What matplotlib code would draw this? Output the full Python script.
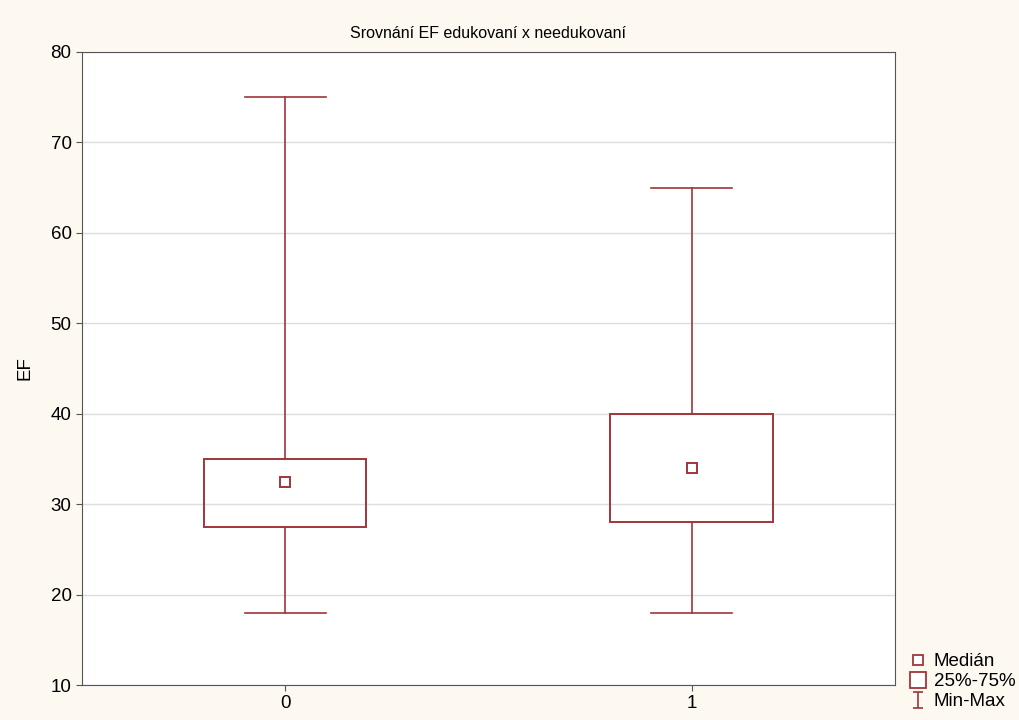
import numpy as np
import matplotlib.pyplot as plt
from matplotlib.lines import Line2D
from matplotlib.path import Path
from matplotlib.patches import Rectangle

plt.rcParams['font.family'] = ['Liberation Sans', 'DejaVu Sans']

groups = ['0', '1']
medians = [32.5, 34.0]
q1 = [27.5, 28.0]
q3 = [35.0, 40.0]
mins = [18.0, 18.0]
maxs = [75.0, 65.0]

col = '#a0353a'

fig = plt.figure(figsize=(10.19, 7.2), dpi=100, facecolor='#fdf9f1')
ax = fig.add_axes([0.0805, 0.0486, 0.7975, 0.8792])
ax.set_facecolor('white')

for i in range(len(groups)):
    # whiskers
    ax.plot([i, i], [mins[i], q1[i]], color=col, lw=1.2)
    ax.plot([i, i], [q3[i], maxs[i]], color=col, lw=1.2)
    ax.plot([i - 0.1, i + 0.1], [mins[i], mins[i]], color=col, lw=1.2)
    ax.plot([i - 0.1, i + 0.1], [maxs[i], maxs[i]], color=col, lw=1.2)
    # box
    ax.add_patch(Rectangle((i - 0.2, q1[i]), 0.4, q3[i] - q1[i],
                           fill=False, edgecolor=col, lw=1.4, zorder=3))
    ax.plot(i, medians[i], marker='s', ms=7, mfc='white', mec=col, mew=1.4, zorder=4)

ax.set_xlim(-0.5, 1.5)
ax.set_ylim(10, 80)
ax.set_xticks(range(len(groups)))
ax.set_xticklabels(groups)
ax.set_yticks(np.arange(10, 81, 10))
ax.tick_params(labelsize=13.5, length=4, color='#555555')
ax.yaxis.grid(True, color='#dddddd', lw=1)
ax.set_axisbelow(True)
for s in ax.spines.values():
    s.set_color('#555555')

ax.set_title('Srovnání EF edukovaní x needukovaní', fontsize=11.5, pad=10)
ax.set_ylabel('EF', fontsize=13.5, labelpad=12)

ibeam = Path([(-0.6, 1), (0.6, 1), (0, 1), (0, -1), (-0.6, -1), (0.6, -1)],
             [Path.MOVETO, Path.LINETO, Path.MOVETO, Path.LINETO, Path.MOVETO, Path.LINETO])
handles = [
    Line2D([], [], ls='none', marker='s', ms=7, mfc='white', mec=col, mew=1.3),
    Line2D([], [], ls='none', marker='s', ms=12, mfc='white', mec=col, mew=1.3),
    Line2D([], [], ls='none', marker=ibeam, ms=12, mfc='none', mec=col, mew=1.2),
]
fig.legend(handles, ['Medián', '25%-75%', 'Min-Max'], loc='lower left',
           bbox_to_anchor=(0.875, -0.01), frameon=False, fontsize=13.5,
           handlelength=1.0, handletextpad=0.35, labelspacing=0.15)

fig.savefig('out.png', dpi=100, facecolor=fig.get_facecolor())
